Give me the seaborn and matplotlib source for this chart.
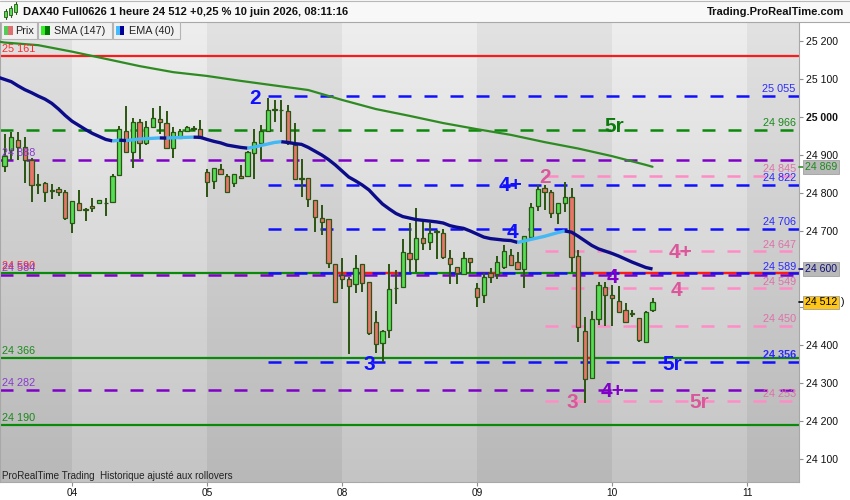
import numpy as np
import pandas as pd
import matplotlib
matplotlib.use("Agg")
import matplotlib.pyplot as plt
import seaborn as sns
from matplotlib.patches import Rectangle
from matplotlib.lines import Line2D
from matplotlib.transforms import blended_transform_factory

# ---------------- data ----------------
opens = [24871, 24913, 24940, 24921, 24887, 24823, 24826, 24807, 24810, 24803,
         24720, 24773, 24758, 24766, 24775, 24773, 24777, 24847, 24963, 24907,
         24986, 24931, 24975, 24994, 24983, 24918, 24946, 24963, 24968, 24968,
         24856, 24832, 24863, 24845, 24826, 24845, 24845, 24904, 24932, 24963,
         25018, 25019, 25017, 24926, 24839, 24839, 24782, 24733, 24731, 24612,
         24584, 24573, 24560, 24612, 24567, 24461, 24404, 24440, 24549, 24552,
         24641, 24626, 24681, 24672, 24698, 24694, 24630, 24604, 24586, 24628,
         24549, 24532, 24590, 24587, 24606, 24637, 24618, 24600, 24685, 24766,
         24812, 24802, 24747, 24773, 24790, 24634, 24438, 24312, 24468, 24553,
         24532, 24516, 24492, 24481, 24470, 24409, 24493]
highs = [24955, 24961, 24961, 24947, 24892, 24850, 24828, 24823, 24815, 24808,
         24779, 24808, 24760, 24786, 24781, 24788, 24849, 24976, 25029, 24997,
         24995, 24989, 25024, 25030, 25016, 24975, 24968, 24976, 24976, 24992,
         24863, 24867, 24876, 24849, 24849, 24874, 24911, 24968, 24979, 25051,
         25045, 25045, 25032, 24983, 24889, 24839, 24782, 24768, 24731, 24614,
         24628, 24580, 24637, 24612, 24567, 24489, 24440, 24612, 24597, 24678,
         24722, 24760, 24725, 24720, 24703, 24705, 24650, 24606, 24646, 24628,
         24562, 24589, 24602, 24634, 24663, 24653, 24646, 24687, 24773, 24821,
         24821, 24808, 24773, 24830, 24812, 24650, 24474, 24490, 24567, 24567,
         24558, 24555, 24510, 24492, 24470, 24490, 24523]
lows = [24855, 24887, 24887, 24826, 24777, 24797, 24776, 24784, 24793, 24730,
        24694, 24755, 24727, 24751, 24773, 24740, 24776, 24847, 24907, 24865,
        24890, 24926, 24975, 24955, 24918, 24891, 24945, 24963, 24963, 24942,
        24790, 24811, 24849, 24800, 24817, 24839, 24845, 24836, 24887, 24961,
        24988, 24961, 24926, 24834, 24790, 24764, 24698, 24689, 24603, 24510,
        24547, 24376, 24536, 24540, 24426, 24380, 24354, 24418, 24507, 24552,
        24593, 24593, 24650, 24650, 24626, 24626, 24560, 24560, 24586, 24589,
        24501, 24511, 24562, 24573, 24600, 24608, 24600, 24551, 24676, 24753,
        24755, 24733, 24718, 24751, 24593, 24409, 24248, 24312, 24453, 24450,
        24450, 24488, 24459, 24475, 24409, 24409, 24488]
closes = [24897, 24948, 24920, 24887, 24821, 24822, 24803, 24805, 24803, 24733,
          24779, 24755, 24756, 24760, 24781, 24775, 24845, 24968, 24909, 24986,
          24931, 24973, 24997, 24986, 24918, 24961, 24963, 24973, 24970, 24944,
          24830, 24867, 24849, 24803, 24849, 24840, 24907, 24935, 24963, 25018,
          25020, 25018, 24931, 24836, 24838, 24783, 24738, 24725, 24615, 24512,
          24573, 24555, 24603, 24564, 24432, 24403, 24438, 24547, 24550, 24644,
          24626, 24681, 24668, 24696, 24699, 24631, 24612, 24589, 24628, 24618,
          24527, 24580, 24580, 24618, 24647, 24611, 24600, 24687, 24763, 24810,
          24802, 24747, 24773, 24789, 24632, 24447, 24310, 24468, 24558, 24532,
          24523, 24488, 24461, 24483, 24413, 24488, 24512]

# EMA(40) read at every bar, starting one bar before the first candle
ema_start = -1
ema_vals = [25105, 25099, 25093, 25082, 25072, 25064, 25055, 25047, 25036, 25021,
            25004, 24989, 24978, 24967, 24957, 24949, 24941, 24937, 24939, 24938,
            24940, 24942, 24943, 24944, 24945, 24944.5, 24945.5, 24946, 24946.5, 24947,
            24946.5, 24941, 24936, 24932, 24926, 24923, 24920, 24918, 24921, 24925,
            24929, 24933, 24935, 24933, 24930, 24928, 24920, 24910, 24900, 24888,
            24874, 24858, 24842, 24832, 24821, 24808, 24789, 24771, 24758, 24746,
            24738, 24734, 24730, 24728, 24726, 24724, 24721, 24714, 24710, 24707,
            24700, 24692, 24684, 24680, 24678, 24676, 24675, 24670, 24674, 24678,
            24682, 24686, 24691, 24696, 24700, 24697, 24686, 24674, 24662, 24653,
            24647, 24641, 24634, 24626, 24618, 24611, 24604, 24600]

# SMA(147) read at sampled bars
sma_bars = [-1, 0, 5, 10, 15, 20, 25, 30, 35, 40, 45, 50, 55, 60, 65, 70, 75, 80, 85, 90, 95, 96]
sma_vals = [25199, 25196, 25189, 25172, 25153, 25134, 25118, 25108, 25095, 25083, 25071,
            25045, 25021, 25003, 24984, 24968, 24953, 24934, 24917, 24897, 24874, 24869]

day_bars = [10, 30, 50, 70, 90, 110]
day_labels = ["04", "05", "08", "09", "10", "11"]

# horizontal levels
red_levels = [25161]
green_solid_levels = [24590, 24366, 24190]
green_dash_levels = [24966]
purple_levels = [24888, 24584, 24282]
blue_levels = [25055, 24822, 24706, 24589, 24356]
pink_levels = [24845, 24647, 24549, 24450, 24253]
blue_start_bar = 39
pink_start_bar = 80

# red overlay pieces on the 24 590 and 24 366 lines (bar ranges)
red_on_590 = [(49, 52), (53, 59), (70, 73), (85.3, 118)]
red_on_366 = [(86, 87.2)]

# wave labels: text, bar, price, colour key
wave_text = ["2", "5r", "4+", "2", "4", "4+", "4", "4", "3", "5r", "4+", "3", "5r"]
wave_bar = [37.1, 90.3, 75.0, 80.1, 75.2, 100.2, 90.1, 99.5, 54.1, 99.0, 90.1, 84.1, 103.0]
wave_price = [25055, 24979, 24826, 24845, 24702, 24650, 24584, 24550, 24355, 24355, 24282, 24253, 24255]
wave_col = ["blue", "green", "blue", "pinkt", "blue", "pinkt", "purple", "pinkt", "blue", "blue",
            "purple", "pinkt", "pinkt"]

last_price = 24512
sma_last = 24869
ema_last = 24600

# ---------------- styling ----------------
sns.set_theme(style="white")
plt.rcParams['font.family'] = ['Liberation Sans', 'DejaVu Sans']

COL = {
    "red": "#ff1a1a", "green": "#0a8a0a", "purple": "#8000c8", "blue": "#1010ff",
    "pink": "#ff8cc6", "pinkt": "#d8589a",
}
LBL = {"red": "#ff2a2a", "green": "#1a8a1a", "purple": "#8a3ad0", "blue": "#2a2aff",
       "pink": "#de70a8"}
EDGE = "#2b5512"
GREEN_BODY = "#55dd55"
RED_BODY = "#e8756a"

W, H = 850, 500
def fx(px): return px / W
def fy(py): return 1 - py / H

fig = plt.figure(figsize=(8.5, 5), dpi=100, facecolor="white")
ax = fig.add_axes([0, fy(482), fx(799), (482 - 22) / H])
x_left, x_right = -0.667, 117.7
y_bot, y_top = 24039.5, 25250

# day bands with vertical gradient
edges = [x_left] + day_bars + [x_right]
for k in range(len(edges) - 1):
    dark = (k % 2 == 0)
    top, bot = (226, 184) if dark else (238, 196)
    g = np.linspace(top, bot, 256) / 255.0
    img = np.repeat(g[:, None, None], 3, axis=2)
    ax.imshow(img, extent=(edges[k], edges[k + 1], y_bot, y_top), aspect="auto",
              origin="upper", zorder=0, interpolation="bilinear")

dash = (0, (5.2, 5.2))
LW_D = 1.8
LW_S = 1.6
for lv in red_levels:
    ax.hlines(lv, x_left, x_right, color=COL["red"], lw=LW_S, zorder=1.5)
for lv in green_solid_levels:
    ax.hlines(lv, x_left, x_right, color=COL["green"], lw=LW_S, zorder=1.6)
for a, b in red_on_590:
    ax.hlines(24590, a, b, color=COL["red"], lw=LW_S, zorder=1.7)
for a, b in red_on_366:
    ax.hlines(24366, a, b, color=COL["red"], lw=LW_S, zorder=1.7)
for lv in green_dash_levels:
    ax.plot([x_left, x_right], [lv, lv], color=COL["green"], lw=LW_D, ls=dash, zorder=1.4)
for lv in purple_levels:
    ax.plot([x_left, x_right], [lv, lv], color=COL["purple"], lw=LW_D, ls=dash, zorder=1.4)
for lv in blue_levels:
    ax.plot([blue_start_bar, x_right], [lv, lv], color=COL["blue"], lw=LW_D, ls=dash, zorder=1.8)
for lv in pink_levels:
    ax.plot([pink_start_bar, x_right], [lv, lv], color=COL["pink"], lw=LW_D, ls=dash, zorder=1.4)

# candles
df = pd.DataFrame({"bar": np.arange(len(opens)), "open": opens, "high": highs,
                   "low": lows, "close": closes})
up = df["close"] >= df["open"]
ax.vlines(df["bar"], df["low"], df["high"], color=EDGE, lw=1.4, zorder=3)
bottoms = np.minimum(df["open"], df["close"])
heights = np.maximum((df["close"] - df["open"]).abs(), 0.5)
ax.bar(df["bar"], heights, bottom=bottoms, width=0.66,
       color=np.where(up, GREEN_BODY, RED_BODY), edgecolor=EDGE, linewidth=0.9, zorder=4)

# SMA
sns.lineplot(x=sma_bars, y=sma_vals, ax=ax, color="#2e8b22", lw=1.6, zorder=5,
             sort=False, estimator=None)

# EMA coloured by direction
ema_x = np.arange(ema_start, ema_start + len(ema_vals))
ema_y = np.array(ema_vals, dtype=float)
rising = np.diff(ema_y) > 0
start = 0
for i in range(1, len(rising) + 1):
    if i == len(rising) or rising[i] != rising[start]:
        xs = ema_x[start:i + 1]
        ys = ema_y[start:i + 1]
        ax.plot(xs, ys, color="#44b8f4" if rising[start] else "#0c0c8a", lw=2.4,
                solid_capstyle="butt", solid_joinstyle="round", zorder=6)
        start = i

trans = blended_transform_factory(ax.transAxes, ax.transData)

def fmt(v):
    return f"{int(v):,}".replace(",", " ")

# left labels
left_items = [(25161, "red"), (24888, "purple"), (24590, "red"), (24584, "purple"),
              (24366, "green"), (24282, "purple"), (24190, "green")]
for lv, c in left_items:
    ax.annotate(fmt(lv), xy=(0.003, lv), xycoords=trans, xytext=(0, 2.6),
                textcoords="offset points", ha="left", va="baseline",
                fontsize=7.8, color=LBL[c], zorder=8)
# right labels
right_items = [(lv, "blue") for lv in blue_levels] + [(lv, "pink") for lv in pink_levels] + \
              [(lv, "green") for lv in green_dash_levels]
for lv, c in right_items:
    ax.annotate(fmt(lv), xy=(0.996, lv), xycoords=trans, xytext=(0, 2.6),
                textcoords="offset points", ha="right", va="baseline",
                fontsize=7.8, color=LBL[c], zorder=8,
                fontweight="bold" if lv == 24356 else "normal")

# wave labels
for t, b, p, c in zip(wave_text, wave_bar, wave_price, wave_col):
    ax.text(b, p, t, ha="center", va="center_baseline", fontsize=15, fontweight="bold",
            color=COL[c] if c != "green" else "#0a7a0a", zorder=9)

# axes
ax.set_xlim(x_left, x_right)
ax.set_ylim(y_bot, y_top)
ax.yaxis.tick_right()
yt = list(range(24100, 25300, 100))
ax.set_yticks(yt)
ax.set_yticklabels(["" if v in (24600, 24500) else fmt(v) for v in yt])
for lab, v in zip(ax.get_yticklabels(), yt):
    if v == 25000:
        lab.set_fontweight("bold")
ax.tick_params(axis="y", which="both", right=True, left=False, length=3, width=0.8,
               color="#909090", labelsize=7.6, pad=2, labelcolor="#111111")
ax.set_xticks(day_bars)
ax.set_xticklabels(day_labels)
ax.tick_params(axis="x", bottom=True, length=3, width=0.8, color="#909090",
               labelsize=7.3, pad=1.5, labelcolor="#111111")
for s in ["left", "right", "bottom"]:
    ax.spines[s].set_color("#a8a8a8")
    ax.spines[s].set_linewidth(0.8)
    ax.spines[s].set_visible(True)
ax.spines["top"].set_visible(False)
ax.grid(False)

# boxed values on the price axis
box_items = [(sma_last, "#1d8a1d", "#b9b9b9", "#2e8b22"),
             (ema_last, "#10107a", "#b9b9b9", "#0c0c8a"),
             (last_price, "#000000", "#ffc61a", "#000000")]
for p, tc, bc, mc in box_items:
    ax.plot([1.0, 1.0 + 5 / 799], [p, p], transform=trans, color=mc, lw=1.2,
            clip_on=False, zorder=10)
    ax.text(1.0 + 6 / 799, p, fmt(p), transform=trans, ha="left", va="center",
            fontsize=7.6, color=tc, zorder=11, clip_on=False,
            bbox=dict(boxstyle="square,pad=0.18", fc=bc, ec="#a0a0a0", lw=0.6))
ax.text(1.0 + 42 / 799, last_price, ")", transform=trans, ha="left", va="center",
        fontsize=7.6, color="#000000", clip_on=False, zorder=11)

# header
fig.add_artist(Rectangle((0, fy(21.5)), 1, 21.5 / H, transform=fig.transFigure,
                         fc="#f8f8f8", ec="none", zorder=1))
fig.add_artist(Line2D([0, 1], [fy(0.5), fy(0.5)], transform=fig.transFigure,
                      color="#b8b8b8", lw=0.8, zorder=2))
fig.add_artist(Line2D([0, 1], [fy(21.5), fy(21.5)], transform=fig.transFigure,
                      color="#a8a8a8", lw=0.8, zorder=2))
# icon
for (x0, y0, y1) in [(4, 11, 17), (9, 8, 15), (14, 4, 12)]:
    fig.add_artist(Line2D([fx(x0 + 1.5), fx(x0 + 1.5)], [fy(y0 - 2), fy(y1 + 2)],
                          transform=fig.transFigure, color="#2b5512", lw=0.8, zorder=3))
    fig.add_artist(Rectangle((fx(x0), fy(y1)), 3 / W, (y1 - y0) / H, transform=fig.transFigure,
                             fc="#55dd55", ec="#2b5512", lw=0.6, zorder=4))
fig.text(fx(23), fy(11.8), "DAX40 Full0626 1 heure 24 512 +0,25 % 10 juin 2026, 08:11:16",
         fontsize=8, fontweight="bold", ha="left", va="center", color="#111111")
fig.text(fx(844), fy(11.8), "Trading.ProRealTime.com", fontsize=8, fontweight="bold",
         ha="right", va="center", color="#111111")

# legend boxes
legend_boxes = [(1, 37, "Prix", ("#55cc55", "#e07070"), 15),
                (38, 112, "SMA (147)", ("#33ee22", "#007a00"), 54),
                (113, 180, "EMA (40)", ("#44bbff", "#000099"), 129)]
for x0, x1, txt, (c1, c2), tx in legend_boxes:
    fig.add_artist(Rectangle((fx(x0), fy(38.5)), (x1 - x0) / W, 16.5 / H,
                             transform=fig.transFigure, fc="#f1f1f1", ec="#b4b4b4",
                             lw=0.8, zorder=5))
    fig.add_artist(Rectangle((fx(x0 + 2.5), fy(35)), 4.5 / W, 9 / H,
                             transform=fig.transFigure, fc=c1, ec="none", zorder=6))
    fig.add_artist(Rectangle((fx(x0 + 7), fy(35)), 4.5 / W, 9 / H,
                             transform=fig.transFigure, fc=c2, ec="none", zorder=6))
    fig.text(fx(tx), fy(30.5), txt, fontsize=7.8, ha="left", va="center",
             color="#222222", zorder=7)

fig.text(fx(2.5), fy(476), "ProRealTime Trading  Historique ajusté aux rollovers",
         fontsize=7.1, ha="left", va="center", color="#222222", zorder=7)

fig.savefig("out.png", dpi=100, facecolor="white")
